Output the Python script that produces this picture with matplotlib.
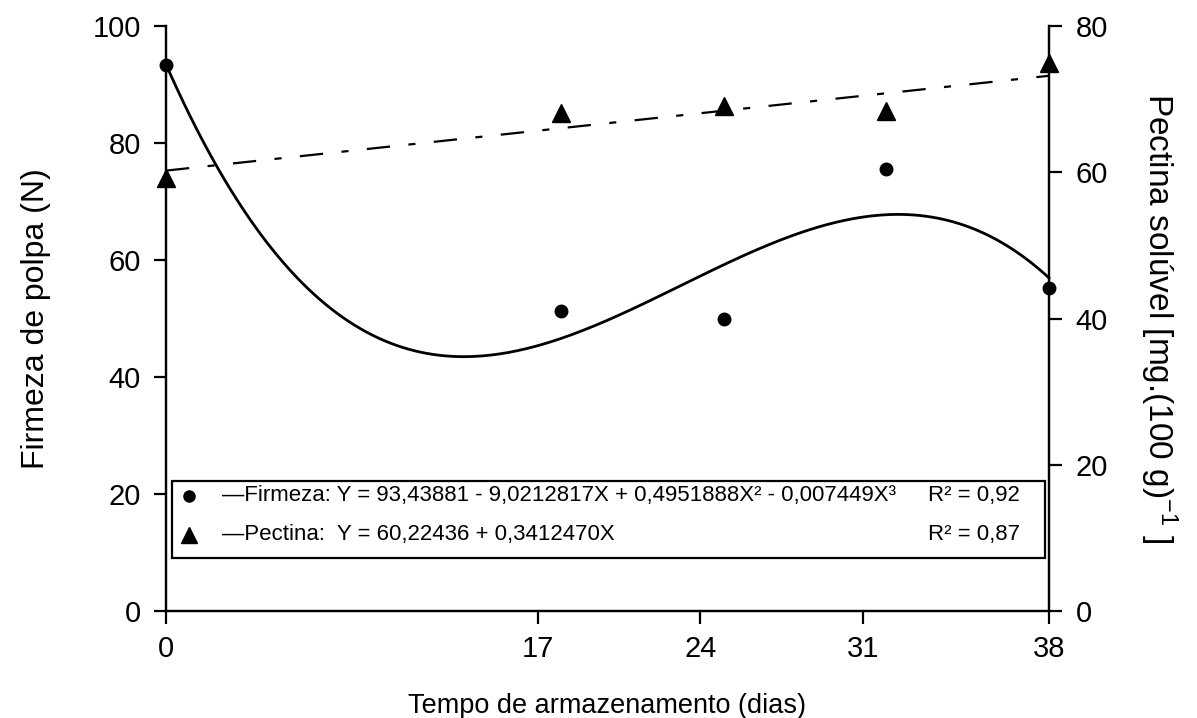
import numpy as np
import matplotlib.pyplot as plt
from matplotlib.patches import Rectangle

plt.rcParams['font.family'] = ['Liberation Sans', 'DejaVu Sans']
plt.rcParams['mathtext.fontset'] = 'custom'
plt.rcParams['mathtext.rm'] = 'Liberation Sans'
plt.rcParams['mathtext.it'] = 'Liberation Sans'

# dias de armazenamento
dias = [0, 17, 24, 31, 38]
firmeza = [93.3, 51.3, 49.9, 75.5, 55.2]      # N
pectina = [59.2, 68.1, 69.0, 68.4, 75.0]      # mg.(100 g)-1

# regression coefficients as printed (highest power first)
coef_firmeza = [-0.007449, 0.4951888, -9.0212817, 93.43881]
coef_pectina = [0.3412470, 60.22436]

# x tick labels (the original places them slightly off the data days)
xtick_pos = [0, 16, 23, 30, 38]
xtick_lab = ['0', '17', '24', '31', '38']

fig = plt.figure(figsize=(11.97, 7.18), dpi=100)
ax = fig.add_axes([166/1197, 107/718, 883/1197, 585/718])
ax2 = ax.twinx()

xx = np.linspace(0, 38, 300)
ax.plot(xx, np.polyval(coef_firmeza, xx), color='black', lw=2, clip_on=False)
ax.plot(dias, firmeza, 'o', color='black', ms=9, clip_on=False, zorder=5)

ax2.plot(xx, np.polyval(coef_pectina, xx), color='black', lw=1.6,
         ls=(0, (10.5, 8.3, 3.2, 8.3)))
ax2.plot(dias, pectina, '^', color='black', ms=13, clip_on=False, zorder=5)

ax.set_xlim(0, 38)
ax.set_ylim(0, 100)
ax2.set_ylim(0, 80)
ax.set_yticks([0, 20, 40, 60, 80, 100])
ax2.set_yticks([0, 20, 40, 60, 80])
ax.set_xticks(xtick_pos)
ax.set_xticklabels(xtick_lab)

for a in (ax, ax2):
    a.spines['top'].set_visible(False)
    for s in ('left', 'right', 'bottom'):
        a.spines[s].set_linewidth(1.6)
    a.tick_params(width=1.6, length=9, labelsize=21)
ax.tick_params(axis='y', pad=9)
ax.tick_params(axis='x', pad=8)
ax2.tick_params(axis='y', pad=10)

ax.set_xlabel('Tempo de armazenamento (dias)', fontsize=19.5, labelpad=22)
ax.set_ylabel('Firmeza de polpa (N)', fontsize=23, labelpad=30)
ax2.set_ylabel(r'Pectina solúvel [mg.(100 g)$^{\mathregular{-1}}$ ]', fontsize=24,
               rotation=-90, labelpad=52)

# legend box drawn by hand (equations)
ax.add_patch(Rectangle((0.0068, 0.0906), 0.9887, 0.1316, transform=ax.transAxes,
                       fill=False, lw=1.6, color='black', clip_on=False, zorder=6))
ax.plot([0.026], [0.1966], 'o', color='black', ms=8, transform=ax.transAxes, clip_on=False)
ax.plot([0.026], [0.130], '^', color='black', ms=11, transform=ax.transAxes, clip_on=False)
fs = 16
ax.text(0.0634, 0.1966, '\u2014Firmeza: Y = 93,43881 - 9,0212817X + 0,4951888X\u00b2 - 0,007449X\u00b3',
        transform=ax.transAxes, fontsize=fs, va='center', ha='left')
ax.text(0.0634, 0.130, '\u2014Pectina:  Y = 60,22436 + 0,3412470X',
        transform=ax.transAxes, fontsize=fs, va='center', ha='left')
ax.text(0.863, 0.1966, 'R\u00b2 = 0,92', transform=ax.transAxes, fontsize=fs, va='center', ha='left')
ax.text(0.863, 0.130, 'R\u00b2 = 0,87', transform=ax.transAxes, fontsize=fs, va='center', ha='left')

fig.savefig('out.png', dpi=100)
